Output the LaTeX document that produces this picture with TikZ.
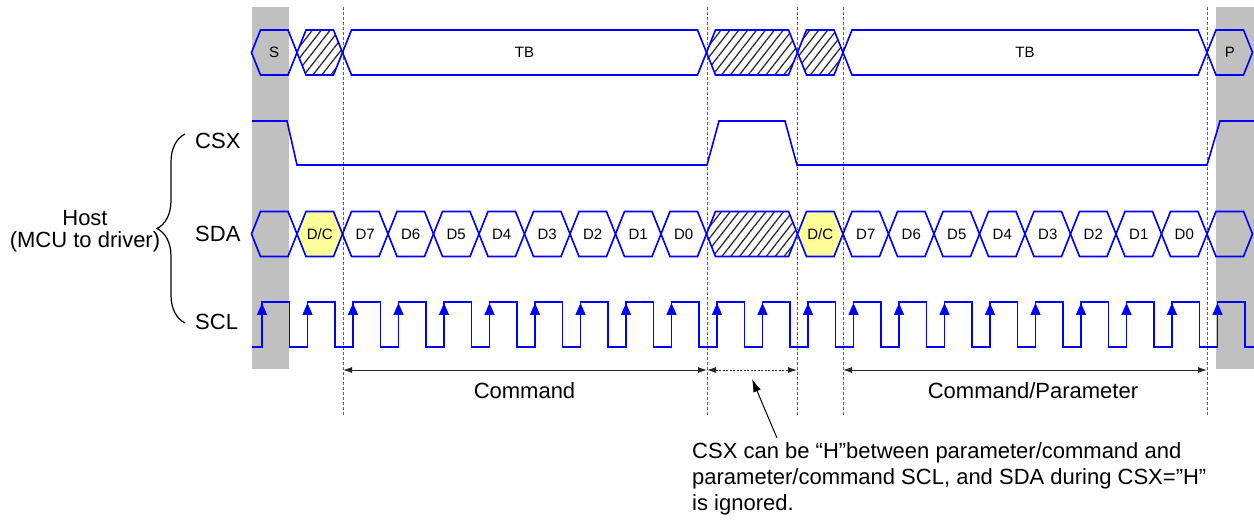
\documentclass[tikz,border=0pt]{standalone}
\usepackage{fontspec}
\setmainfont{Liberation Sans}
\usetikzlibrary{arrows.meta,patterns.meta,decorations.pathreplacing}
\definecolor{wireblue}{RGB}{0,0,255}
\definecolor{bandgray}{RGB}{192,192,192}
\definecolor{dcyellow}{RGB}{255,255,153}
\definecolor{hatchcol}{RGB}{45,45,45}
\definecolor{guidegray}{RGB}{95,95,95}
\newcommand{\hexp}[3]{(#1,#3) -- ({#1+9},{#3-22.5}) -- ({#2-9},{#3-22.5}) -- (#2,#3) -- ({#2-9},{#3+22.5}) -- ({#1+9},{#3+22.5}) -- cycle}
\begin{document}
\begin{tikzpicture}[x=1pt,y=-1pt,
  wave/.style={draw=wireblue,line width=1.6pt,line join=miter},
  hatched/.style={pattern={Lines[angle=52,distance=7pt,line width=1.3pt]},pattern color=hatchcol},
  biglbl/.style={font=\fontsize{22}{26}\selectfont,inner sep=0pt},
  smalllbl/.style={font=\fontsize{15}{18}\selectfont,inner sep=0pt},
  vline/.style={draw=guidegray,line width=0.8pt,dash pattern=on 3pt off 2pt},
  span/.style={draw=black!85,line width=0.9pt,{Latex[length=9pt,width=6pt]}-{Latex[length=9pt,width=6pt]}},
]
\useasboundingbox (0,0) rectangle (1254,521);
% grey start/stop bands
\fill[bandgray] (252,7) rectangle (289,369);
\fill[bandgray] (1216,7) rectangle (1254,369);
% dashed guide lines
\foreach \x in {343,707,797,843,1207} \draw[vline] (\x,7) -- (\x,415);

% ---- top row (transfer blocks)
\draw[wave] \hexp{251.5}{297}{52.5};
\node[smalllbl] (s) at (274.25,52.5) {S};
\fill[hatched] \hexp{297}{342.5}{52.5};
\draw[wave] \hexp{297}{342.5}{52.5};
\draw[wave] \hexp{342.5}{706.5}{52.5};
\node[smalllbl] (tb1) at (524.5,52.5) {TB};
\fill[hatched] \hexp{706.5}{797.5}{52.5};
\draw[wave] \hexp{706.5}{797.5}{52.5};
\fill[hatched] \hexp{797.5}{843}{52.5};
\draw[wave] \hexp{797.5}{843}{52.5};
\draw[wave] \hexp{843}{1207}{52.5};
\node[smalllbl] (tb2) at (1025,52.5) {TB};
\draw[wave] \hexp{1207}{1252.5}{52.5};
\node[smalllbl] (p) at (1229.75,52.5) {P};

% ---- CSX
\draw[wave] (252,121) -- (287,121) -- (297,165) -- (707,165) -- (719,121) -- (785,121) -- (797,165) -- (1207,165) -- (1220,121) -- (1254,121);

% ---- SDA
\draw[wave] \hexp{251.5}{297}{234};
\draw[wave,fill=dcyellow] \hexp{297}{342.5}{234};
\node[smalllbl] (dc1) at (319.75,234) {D/C};
\foreach \i [evaluate=\i as \xa using 342.5+45.5*\i, evaluate=\i as \xb using 388+45.5*\i, evaluate=\i as \n using int(7-\i)] in {0,...,7} {
  \draw[wave] \hexp{\xa}{\xb}{234};
  \node[smalllbl] (da\n) at ({(\xa+\xb)/2},234) {D\n};
}
\fill[hatched] \hexp{706.5}{797.5}{234};
\draw[wave] \hexp{706.5}{797.5}{234};
\draw[wave,fill=dcyellow] \hexp{797.5}{843}{234};
\node[smalllbl] (dc2) at (820.25,234) {D/C};
\foreach \i [evaluate=\i as \xa using 843+45.5*\i, evaluate=\i as \xb using 888.5+45.5*\i, evaluate=\i as \n using int(7-\i)] in {0,...,7} {
  \draw[wave] \hexp{\xa}{\xb}{234};
  \node[smalllbl] (db\n) at ({(\xa+\xb)/2},234) {D\n};
}
\draw[wave] \hexp{1207}{1252.5}{234};

% ---- SCL
\draw[wave] (252,347) \foreach \k in {0,...,21}{ -- ({262+45.5*\k},347) -- ({262+45.5*\k},302) -- ({289.5+45.5*\k},302) -- ({289.5+45.5*\k},347)} -- (1254,347);
\foreach \k in {0,...,21} \draw[wave,-{Triangle[length=12pt,width=10pt]}] ({262+45.5*\k},330) -- ({262+45.5*\k},303);

% ---- signal names and brace
\node[biglbl,anchor=west] (sigcsx) at (195,141) {CSX};
\node[biglbl,anchor=west] (sigsda) at (195,234) {SDA};
\node[biglbl,anchor=west] (sigscl) at (195,322) {SCL};
\coordinate (bracebot) at (185,323);
\coordinate (bracetop) at (185,134);
\draw[decorate,decoration={brace,amplitude=28pt,aspect=0.5},line width=1.2pt] (bracebot) -- (bracetop);
\node[font=\fontsize{22}{21.5}\selectfont,inner sep=0pt,align=center] (host) at (85,231) {Host\\(MCU to driver)};

% ---- spans
\coordinate (c1) at (343,370);
\coordinate (c2) at (707,370);
\coordinate (c3) at (797,370);
\coordinate (c4) at (843,370);
\coordinate (c5) at (1207,370);
\draw[span] (c1) -- (c2);
\draw[span,dash pattern=on 2pt off 1.5pt] (c2) -- (c3);
\draw[span] (c4) -- (c5);
\node[biglbl] (cmd) at (524.5,391) {Command};
\node[biglbl] (cmdpar) at (1033,391) {Command/Parameter};

% ---- note
\node[biglbl,align=left,anchor=north west] (note) at (692,442) {CSX can be “H”between parameter/command and\\parameter/command SCL, and SDA during CSX=”H”\\is ignored.};
\coordinate (ptrfoot) at (777,438);
\coordinate (ptrtip) at (752,379);
\draw[black,line width=1pt,-{Latex[length=13pt,width=8pt]}] (ptrfoot) -- (ptrtip);
\end{tikzpicture}
\end{document}
